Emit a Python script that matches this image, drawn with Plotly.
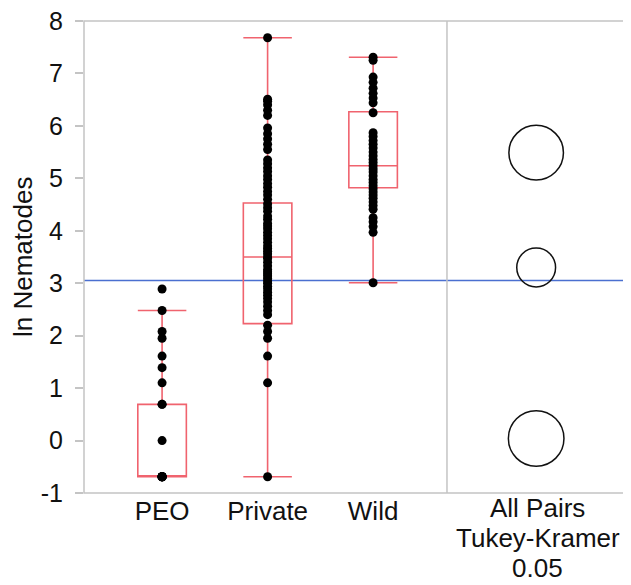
import plotly.graph_objects as go

# ---------------- data ----------------
groups = ["PEO", "Private", "Wild"]

peo_vals = [-0.69, -0.69, -0.69, -0.69, -0.69, -0.69, -0.69, 0.0, 0.69, 0.69,
            1.10, 1.39, 1.61, 1.95, 2.08, 2.48, 2.89]
private_vals = [-0.69, 1.10, 1.61, 1.95, 2.08, 2.20, 2.40, 2.48, 2.56, 2.64,
                2.71, 2.77, 2.83, 2.89, 2.94, 3.00, 3.04, 3.09, 3.14, 3.18,
                3.22, 3.26, 3.33, 3.40, 3.47, 3.50, 3.56, 3.61, 3.66, 3.71,
                3.78, 3.85, 3.91, 3.97, 4.04, 4.09, 4.14, 4.22, 4.28, 4.37,
                4.44, 4.51, 4.60, 4.68, 4.75, 4.83, 4.90, 4.98, 5.05, 5.13,
                5.20, 5.28, 5.35, 5.55, 5.65, 5.75, 5.85, 5.96, 6.20, 6.30,
                6.40, 6.47, 6.51, 7.68]
wild_vals = [3.01, 3.97, 4.08, 4.17, 4.25, 4.41, 4.48, 4.55, 4.62, 4.68,
             4.74, 4.80, 4.86, 4.92, 4.98, 5.05, 5.12, 5.18, 5.24, 5.30,
             5.36, 5.43, 5.50, 5.58, 5.65, 5.72, 5.80, 5.87, 6.25, 6.44,
             6.53, 6.62, 6.72, 6.83, 6.93, 7.25, 7.31]

q1 = [-0.69, 2.23, 4.82]
median = [-0.69, 3.50, 5.24]
q3 = [0.69, 4.53, 6.27]
lowerfence = [-0.69, -0.69, 3.01]
upperfence = [2.48, 7.68, 7.31]

grand_mean = 3.05

circle_centers = [5.49, 3.30, 0.04]   # Wild, Private, PEO comparison circles
circle_radii = [0.52, 0.37, 0.53]

comp_label_lines = ["All Pairs", "Tukey-Kramer", "0.05"]
y_ticks = [-1, 0, 1, 2, 3, 4, 5, 6, 7, 8]
y_ticktext = ["-1", "0", "1", "2", "3", "4", "5", "6", "7", "8"]
y_title = "ln Nematodes"

# ---------------- style / layout ----------------
# the page body adds an 8px offset, so the figure is 8px smaller
W, H = 623, 577
ML, MR, MT, MB = 76, 2, 13, 92
SPLIT = 0.666
RED = "#f0636e"
GRAY = "#c4c4c4"
BLUE = "#4a6fd0"
FONT = "Liberation Sans, Arial, Helvetica, sans-serif"
YR = [-1, 8]

fig = go.Figure()

fig.add_trace(go.Box(
    x=groups, q1=q1, median=median, q3=q3,
    lowerfence=lowerfence, upperfence=upperfence,
    boxpoints=False, whiskerwidth=1, width=0.46,
    fillcolor="rgba(0,0,0,0)", line=dict(color=RED, width=1.6),
    hoverinfo="skip", showlegend=False, xaxis="x", yaxis="y"))

for g, vals in zip(groups, [peo_vals, private_vals, wild_vals]):
    fig.add_trace(go.Scatter(
        x=[g] * len(vals), y=vals, mode="markers",
        marker=dict(color="black", size=9),
        showlegend=False, xaxis="x", yaxis="y"))

# comparison circles in right panel (x2 range 0..1)
plot_w = W - ML - MR
plot_h = H - MT - MB
px_per_y = plot_h / (YR[1] - YR[0])
px_per_x2 = plot_w * (1 - SPLIT)
shapes = []
for c, r in zip(circle_centers, circle_radii):
    rx = r * px_per_y / px_per_x2
    shapes.append(dict(type="circle", xref="x2", yref="y",
                       x0=0.49 - rx, x1=0.49 + rx, y0=c - r, y1=c + r,
                       line=dict(color="#111", width=1.5), layer="above"))

shapes.append(dict(type="line", xref="paper", yref="y", x0=0, x1=1,
                   y0=grand_mean, y1=grand_mean,
                   line=dict(color=BLUE, width=1.5), layer="below"))
shapes.append(dict(type="rect", xref="paper", yref="paper", x0=0, x1=1, y0=0, y1=1,
                   line=dict(color=GRAY, width=1.5), layer="above"))
shapes.append(dict(type="line", xref="paper", yref="paper", x0=SPLIT, x1=SPLIT, y0=0, y1=1,
                   line=dict(color=GRAY, width=1.5), layer="above"))

annotations = []
for i, txt in enumerate(comp_label_lines):
    annotations.append(dict(text=txt, xref="x2", yref="paper", x=0.5, y=0,
                            yanchor="middle", xanchor="center", showarrow=False,
                            yshift=-(15 + 30 * i), font=dict(size=26)))
annotations.append(dict(text=y_title, xref="paper", yref="paper", x=0, y=0.5,
                        xanchor="center", yanchor="middle", textangle=-90,
                        xshift=-61, showarrow=False, font=dict(size=26)))

fig.update_layout(
    template="none",
    width=W, height=H,
    margin=dict(l=ML, r=MR, t=MT, b=MB, autoexpand=False),
    paper_bgcolor="white", plot_bgcolor="white",
    font=dict(family=FONT, color="#111", size=26),
    shapes=shapes,
    annotations=annotations,
    xaxis=dict(domain=[0, SPLIT], type="category", categoryarray=groups,
               categoryorder="array", range=[-0.74, 2.70], showgrid=False,
               zeroline=False, showline=False, ticks="", anchor="y",
               automargin=False, tickfont=dict(size=26)),
    xaxis2=dict(domain=[SPLIT, 1], range=[0, 1], showgrid=False, zeroline=False,
                showline=False, ticks="", showticklabels=False,
                anchor="y", automargin=False),
    yaxis=dict(range=YR, tickvals=y_ticks, ticktext=y_ticktext, showgrid=False,
               zeroline=False, showline=False, ticks="outside", ticklen=8,
               tickwidth=1.5, tickcolor=GRAY, tickfont=dict(size=25),
               automargin=False, ticklabelstandoff=7, ticklabeloverflow="allow"),
)

fig.write_html("out.html")
